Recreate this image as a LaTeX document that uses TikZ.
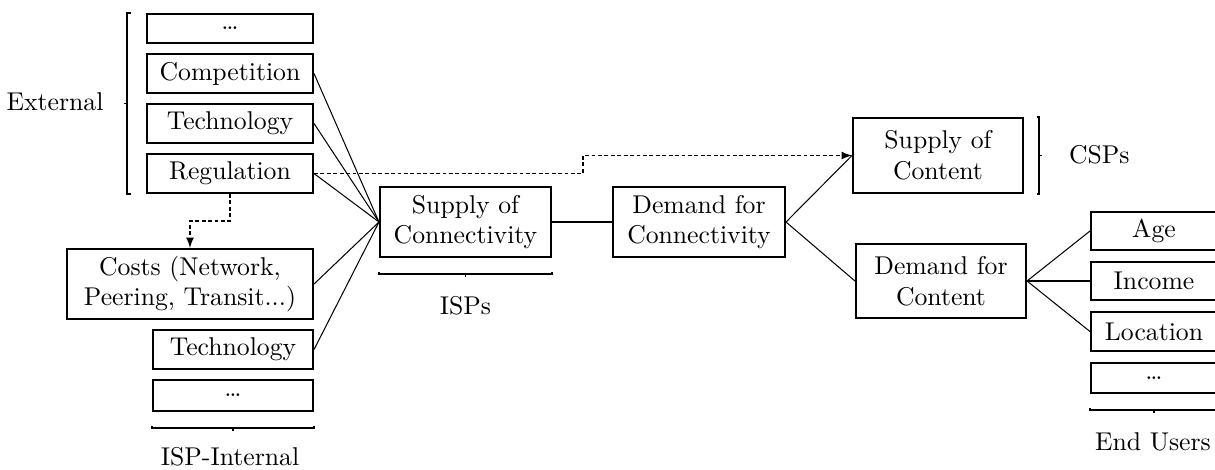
\documentclass[tikz,border=0pt]{standalone}
\usepackage{amsmath}
\usepackage{tikz}
\usetikzlibrary{arrows}
\usetikzlibrary{calc}
\usetikzlibrary{positioning}
\newcommand{\px}{0.3891pt}
\tikzset{factor/.style = {draw, thick, align = center, inner sep = 1pt}}
\tikzset{dashline/.style = {dash pattern = on 1.5pt off 1pt, -latex}}
\tikzset{brak/.style = {line width = 0.5pt}}

\begin{document}
\begin{tikzpicture}[x = \px, y = -\px]
    \useasboundingbox (0, 0) rectangle (1215, 469);

    % external factors
    \node [factor, minimum width = 166*\px, minimum height = 29*\px] (dotsA) at (230, 28.5) {\dots};
    \node [factor, minimum width = 166*\px, minimum height = 39*\px] (comp) at (230, 73.5) {Competition};
    \node [factor, minimum width = 166*\px, minimum height = 39*\px] (techA) at (230, 123.5) {Technology};
    \node [factor, minimum width = 166*\px, minimum height = 39*\px] (reg) at (230, 173.5) {Regulation};

    % ISP-internal factors
    \node [factor, minimum width = 246*\px, minimum height = 70*\px] (costs) at (190, 284) {Costs (Network,\\ Peering, Transit...)};
    \node [factor, minimum width = 160*\px, minimum height = 39*\px] (techB) at (233, 349.5) {Technology};
    \node [factor, minimum width = 160*\px, minimum height = 31*\px] (dotsB) at (233, 395.5) {\dots};

    % market
    \node [factor, minimum width = 171*\px, minimum height = 70*\px] (supconn) at (465.5, 222) {Supply of\\ Connectivity};
    \node [factor, minimum width = 172*\px, minimum height = 70*\px] (demconn) at (699, 222) {Demand for\\ Connectivity};
    \node [factor, minimum width = 170*\px, minimum height = 75*\px] (supcont) at (938, 155.5) {Supply of\\ Content};
    \node [factor, minimum width = 170*\px, minimum height = 74*\px] (demcont) at (941, 281) {Demand for\\ Content};

    % end users
    \node [factor, minimum width = 126*\px, minimum height = 38*\px] (age) at (1154, 231) {Age};
    \node [factor, minimum width = 126*\px, minimum height = 38*\px] (income) at (1154, 281) {Income};
    \node [factor, minimum width = 126*\px, minimum height = 39*\px] (location) at (1154, 331.5) {Location};
    \node [factor, minimum width = 126*\px, minimum height = 30*\px] (dotsC) at (1154, 378) {\dots};

    % connections
    \foreach \n in {comp, techA, reg, costs, techB}
        \draw (\n.east) -- (supconn.west);
    \draw (supconn.east) -- (demconn.west);
    \draw (demconn.east) -- (supcont.west);
    \draw (demconn.east) -- (demcont.west);
    \foreach \n in {age, income, location}
        \draw (demcont.east) -- (\n.west);

    \draw [dashline] (reg.east) -| ($(reg.east)!0.5!(supcont.west)$) |- (supcont.west);
    \draw [dashline] (reg.south) |- ($(reg.south)!0.5!(costs.north)$) -| (costs.north);

    % brackets and groups
    \draw [brak] ([shift = {(-15, 0)}]dotsA.north west) -- ++(-4, 0) coordinate (extA)
        -- ([shift = {(-19, 0)}]reg.south west) -- ++(4, 0);
    \coordinate (extm) at ($(extA)!0.5!([shift = {(-19, 0)}]reg.south west)$);
    \draw [brak] (extm) -- ++(-3, 0);
    \node [anchor = base] (external) at (55, 110.7) {External};

    \draw [brak] ([shift = {(0, 14)}]dotsB.south west) -- ++(0, 2) coordinate (intA)
        -- ([shift = {(0, 16)}]dotsB.south east) -- ++(0, -2);
    \draw [brak] ([shift = {(0, 16)}]dotsB.south) -- ++(0, 3);
    \node [anchor = base] (internal) at (230, 465) {ISP-Internal};

    \draw [brak] ([shift = {(0, 14)}]supconn.south west) -- ++(0, 2)
        -- ([shift = {(0, 16)}]supconn.south east) -- ++(0, -2);
    \draw [brak] ([shift = {(0, 16)}]supconn.south) -- ++(0, 3);
    \node [anchor = base] (isps) at (465.5, 314) {ISPs};

    \draw [brak] ([shift = {(13, 0)}]supcont.north east) -- ++(2, 0)
        -- ([shift = {(15, 0)}]supcont.south east) -- ++(-2, 0);
    \draw [brak] ([shift = {(15, 0)}]supcont.east) -- ++(3, 0);
    \node [anchor = base west] (csps) at (1060, 163) {CSPs};

    \draw [brak] ([shift = {(0, 14)}]dotsC.south west) -- ++(0, 2)
        -- ([shift = {(0, 16)}]dotsC.south east) -- ++(0, -2);
    \draw [brak] ([shift = {(0, 16)}]dotsC.south) -- ++(0, 3);
    \node [anchor = base] (users) at (1153, 450) {End Users};
\end{tikzpicture}
\end{document}
